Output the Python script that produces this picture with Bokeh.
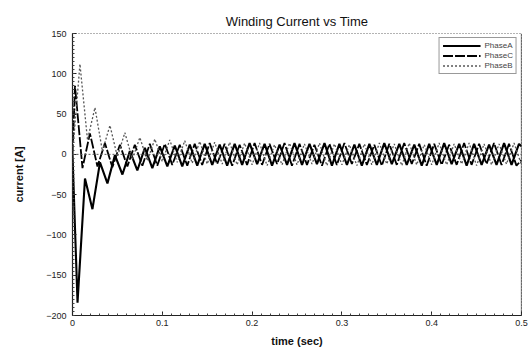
from bokeh.plotting import figure
from bokeh.models import Range1d, Legend, LegendItem, Span, BasicTicker
from bokeh.embed import file_html
from bokeh.resources import INLINE

chart_title = "Winding Current vs Time"
x_label = "time (sec)"
y_label = "current [A]"
x_tick_labels = {0: "0"}

# Phase A (solid) - turning points
phase_a_t = [0.0, 0.0056, 0.0139, 0.0222, 0.0306, 0.0389, 0.0472, 0.0556, 0.0639, 0.0722, 0.0806,
             0.0889, 0.0972, 0.1056, 0.1139, 0.1222, 0.1306, 0.1389, 0.1472, 0.1556, 0.1639,
             0.1722, 0.1806, 0.1889, 0.1972, 0.2056, 0.2139, 0.2222, 0.2306, 0.2389, 0.2472,
             0.2556, 0.2639, 0.2722, 0.2806, 0.2889, 0.2972, 0.3056, 0.3139, 0.3222, 0.3306,
             0.3389, 0.3472, 0.3556, 0.3639, 0.3722, 0.3806, 0.3889, 0.3972, 0.4056, 0.4139,
             0.4222, 0.4306, 0.4389, 0.4472, 0.4556, 0.4639, 0.4722, 0.4806, 0.4889, 0.4972, 0.5]
phase_a_i = [0, -184, -30, -68, -10, -36, -1, -25, 4, -20, 8,
             -17, 10, -15, 11, -15, 12, -14, 13, -13, 12,
             -14, 13, -13, 14, -12, 13, -14, 12, -13, 14,
             -13, 13, -12, 14, -14, 13, -13, 12, -14, 13,
             -13, 14, -12, 13, -13, 12, -14, 13, -13, 14,
             -12, 13, -14, 13, -13, 12, -13, 14, -13, 13, 10]

# Phase C (heavy dashed)
phase_c_t = [0.0, 0.0028, 0.0111, 0.0194, 0.0278, 0.0361, 0.0444, 0.0528, 0.0611, 0.0694, 0.0778,
             0.0861, 0.0944, 0.1028, 0.1111, 0.1194, 0.1278, 0.1361, 0.1444, 0.1528, 0.1611,
             0.1694, 0.1778, 0.1861, 0.1944, 0.2028, 0.2111, 0.2194, 0.2278, 0.2361, 0.2444,
             0.2528, 0.2611, 0.2694, 0.2778, 0.2861, 0.2944, 0.3028, 0.3111, 0.3194, 0.3278,
             0.3361, 0.3444, 0.3528, 0.3611, 0.3694, 0.3778, 0.3861, 0.3944, 0.4028, 0.4111,
             0.4194, 0.4278, 0.4361, 0.4444, 0.4528, 0.4611, 0.4694, 0.4778, 0.4861, 0.4944, 0.5]
phase_c_i = [0, 85, -17, 26, -15, 14, -16, 12, -15, 12, -14,
             13, -14, 13, -13, 12, -14, 13, -13, 14, -12,
             13, -14, 12, -13, 14, -13, 13, -12, 14, -14,
             13, -13, 12, -14, 13, -13, 14, -12, 13, -13,
             12, -14, 13, -13, 14, -12, 13, -14, 13, -13,
             12, -13, 14, -13, 13, -12, 14, -13, 13, -14, -7]

# Phase B (dotted)
phase_b_t = [0.0, 0.0083, 0.0167, 0.025, 0.0333, 0.0417, 0.05, 0.0583, 0.0667, 0.075, 0.0833,
             0.0917, 0.1, 0.1083, 0.1167, 0.125, 0.1333, 0.1417, 0.15, 0.1583, 0.1667,
             0.175, 0.1833, 0.1917, 0.2, 0.2083, 0.2167, 0.225, 0.2333, 0.2417, 0.25,
             0.2583, 0.2667, 0.275, 0.2833, 0.2917, 0.3, 0.3083, 0.3167, 0.325, 0.3333,
             0.3417, 0.35, 0.3583, 0.3667, 0.375, 0.3833, 0.3917, 0.4, 0.4083, 0.4167,
             0.425, 0.4333, 0.4417, 0.45, 0.4583, 0.4667, 0.475, 0.4833, 0.4917, 0.5]
phase_b_i = [0, 112, 18, 58, 4, 36, -3, 27, -6, 21, -8,
             19, -9, 18, -10, 17, -11, 16, -12, 15, -12,
             15, -13, 14, -13, 14, -14, 12, -13, 14, -13,
             13, -12, 14, -14, 13, -13, 12, -14, 13, -13,
             14, -12, 13, -14, 14, -13, 12, -13, 14, -13,
             13, -12, 14, -14, 13, -13, 13, -12, 14, -13]

FONT = "Liberation Sans"

p = figure(width=529, height=351, output_backend="svg", toolbar_location=None,
           x_range=Range1d(0, 0.5), y_range=Range1d(-200, 150),
           min_border_left=72, min_border_right=8, min_border_top=33, min_border_bottom=36)
p.background_fill_color = "white"
p.border_fill_color = "white"
p.xgrid.visible = False
p.ygrid.visible = False
p.outline_line_color = "#666666"
p.outline_line_dash = "1 2"

p.title.text = chart_title
p.title.align = "center"
p.title.text_font = FONT
p.title.text_font_size = "13px"
p.title.text_font_style = "normal"
p.title.text_color = "#111111"

p.xaxis.ticker = BasicTicker(desired_num_ticks=6, num_minor_ticks=10)
p.yaxis.ticker = BasicTicker(desired_num_ticks=8, num_minor_ticks=10)
p.xaxis.major_label_overrides = x_tick_labels
for ax in (p.xaxis[0], p.yaxis[0]):
    ax.major_tick_in = 4
    ax.major_tick_out = 0
    ax.minor_tick_in = 2
    ax.minor_tick_out = 0
    ax.axis_line_color = "#222222"
    ax.axis_line_width = 1.2
    ax.major_tick_line_color = "#222222"
    ax.minor_tick_line_color = "#444444"
    ax.major_label_text_font = FONT
    ax.major_label_text_font_size = "9px"
    ax.major_label_text_color = "#222222"
    ax.axis_label_text_font = FONT
    ax.axis_label_text_font_size = "11px"
    ax.axis_label_text_font_style = "bold"
    ax.axis_label_text_color = "#111111"
p.xaxis.axis_label = x_label
p.yaxis.axis_label = y_label
p.xaxis.major_label_standoff = 4
p.xaxis.axis_label_standoff = 6
p.yaxis.major_label_standoff = 6
p.yaxis.axis_label_standoff = 18

p.add_layout(Span(location=0, dimension="width", line_color="#555555", line_dash="2 2", line_width=1))
p.add_layout(Span(location=0.5, dimension="height", line_color="#222222", line_width=1.2))

ra = p.line(phase_a_t, phase_a_i, line_color="black", line_width=2.1)
rc = p.line(phase_c_t, phase_c_i, line_color="black", line_width=1.8, line_dash="10 2")
rb = p.line(phase_b_t, phase_b_i, line_color="#555555", line_width=1.3, line_dash="2 2")

legend = Legend(items=[LegendItem(label="PhaseA", renderers=[ra]),
                       LegendItem(label="PhaseC", renderers=[rc]),
                       LegendItem(label="PhaseB", renderers=[rb])],
                location="top_right")
legend.label_text_font = FONT
legend.label_text_font_size = "8px"
legend.label_height = 7
legend.glyph_height = 7
legend.glyph_width = 38
legend.spacing = 1
legend.padding = 3
legend.margin = 4
legend.label_standoff = 4
legend.border_line_color = "#333333"
legend.border_line_width = 1
legend.background_fill_alpha = 1
p.add_layout(legend)

open("out.html", "w").write(file_html(p, INLINE))
